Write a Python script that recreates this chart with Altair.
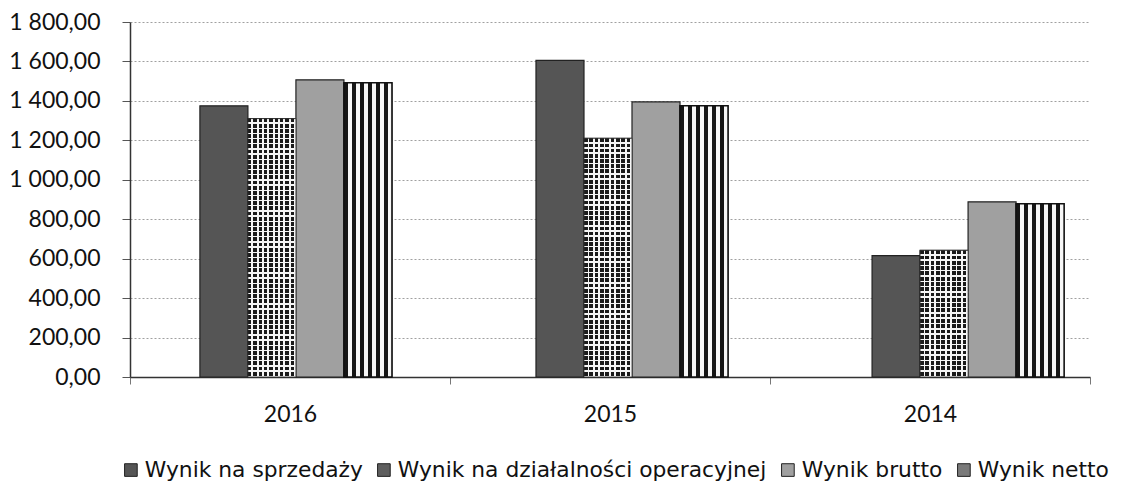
import altair as alt
import pandas as pd

years = ["2016", "2015", "2014"]
series = ["Wynik na sprzedaży", "Wynik na działalności operacyjnej", "Wynik brutto", "Wynik netto"]
sprzedazy = [1375, 1605, 615]
operacyjnej = [1310, 1210, 642]
brutto = [1507, 1395, 888]
netto = [1492, 1375, 878]

rows = []
for i, y in enumerate(years):
    for s, vals in zip(series, [sprzedazy, operacyjnej, brutto, netto]):
        rows.append({"rok": y, "seria": s, "wartosc": vals[i]})
df = pd.DataFrame(rows)

W, H = 960, 355
YMAX = 1800

def vstripes(n, dark, light, frac):
    stops = []
    for i in range(n):
        a = i / n
        b = (i + frac) / n
        c = (i + 1) / n
        stops += [
            {"offset": a, "color": dark},
            {"offset": b, "color": dark},
            {"offset": b, "color": light},
            {"offset": c, "color": light},
        ]
    return {"gradient": "linear", "x1": 0, "x2": 1, "y1": 0, "y2": 0, "stops": stops}

def hstripes(n, frac):
    stops = []
    for i in range(n):
        a = i / n
        b = (i + 1 - frac) / n
        c = (i + 1) / n
        stops += [
            {"offset": a, "color": "rgba(255,255,255,0)"},
            {"offset": b, "color": "rgba(255,255,255,0)"},
            {"offset": b, "color": "#f6f6f6"},
            {"offset": c, "color": "#f6f6f6"},
        ]
    return {"gradient": "linear", "x1": 0, "x2": 0, "y1": 0, "y2": 1, "stops": stops}

x_bar = alt.X("rok:N", sort=years, title=None,
              scale=alt.Scale(range=[0, 1004], paddingInner=0.4286, paddingOuter=0.208),
              axis=None)
xo_enc = alt.XOffset("seria:N", sort=series, scale=alt.Scale(domain=series))
y_enc = alt.Y("wartosc:Q", title=None,
              scale=alt.Scale(domain=[0, YMAX], nice=False),
              axis=alt.Axis(values=list(range(0, 2000, 200)),
                            labelExpr="replace(replace(format(datum.value, ',.2f'), ',', ' '), '.', ',')",
                            labelFont="Lato", labelFontSize=23, labelPadding=22, tickSize=8,
                            gridColor="#888", gridDash=[2, 2], gridWidth=0.8))

axis_layer = alt.Chart(df).mark_bar(opacity=0).encode(
    x=alt.X("rok:N", sort=years, title=None,
            scale=alt.Scale(paddingInner=0, paddingOuter=0),
            axis=alt.Axis(labelAngle=0, labelFont="Lato", labelFontSize=23, labelPadding=19,
                          tickBand="extent", tickOffset=22, tickSize=7, tickColor="#777",
                          grid=False)),
    y=y_enc,
)

base = alt.Chart(df).mark_bar(stroke="#222", strokeWidth=1.2).encode(
    x=x_bar, xOffset=xo_enc, y=y_enc,
    color=alt.Color("seria:N", sort=series,
                    scale=alt.Scale(domain=series, range=["#555555", "#5e5e5e", "#a0a0a0", "#7a7a7a"]),
                    legend=alt.Legend(title=None, orient="none", legendX=-10, legendY=437,
                                      direction="horizontal", columns=4, columnPadding=10,
                                      symbolType="square", symbolSize=160, symbolStrokeColor="#222",
                                      symbolStrokeWidth=1, labelFont="DejaVu Sans", labelFontSize=21.8,
                                      labelColor="#111", labelOffset=3, labelLimit=0,
                                      symbolOpacity=1)),
)

netto_layer = alt.Chart(df).transform_filter(alt.datum.seria == "Wynik netto").mark_bar(
    fill=vstripes(6, "#151515", "#f6f6f6", 0.55), stroke="#111", strokeWidth=1.5
).encode(x=x_bar, xOffset=xo_enc, y=y_enc)

op_v = alt.Chart(df).transform_filter(alt.datum.seria == series[1]).mark_bar(
    fill=vstripes(9, "#1a1a1a", "#f6f6f6", 0.66)
).encode(x=x_bar, xOffset=xo_enc, y=y_enc)

op_h_layers = []
for i, yr in enumerate(years):
    hpx = operacyjnej[i] / YMAX * H
    n = max(1, round(hpx / 5.2))
    op_h_layers.append(
        alt.Chart(df).transform_filter(
            (alt.datum.seria == series[1]) & (alt.datum.rok == yr)
        ).mark_bar(fill=hstripes(n, 0.28), stroke="#333", strokeWidth=0.8)
        .encode(x=x_bar, xOffset=xo_enc, y=y_enc)
    )

bars = alt.layer(base, netto_layer, op_v, *op_h_layers)

chart = alt.layer(axis_layer, bars).resolve_scale(x="independent").properties(
    width=W, height=H,
    autosize=alt.AutoSizeParams(type="none"),
    padding={"left": 122, "top": 14, "right": 34, "bottom": 105},
    background="white",
).configure_view(stroke=None).configure_axis(
    labelColor="#111", domainColor="#333", domainWidth=1.5, tickColor="#555",
)

chart.save("out.html", embed_options={"renderer": "svg", "actions": False})
